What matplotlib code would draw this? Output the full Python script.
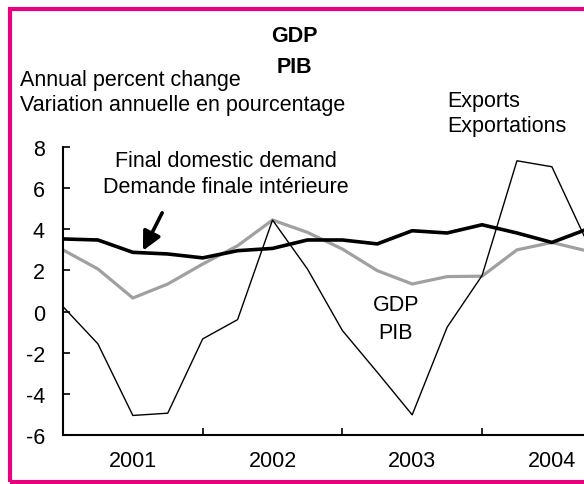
import numpy as np
import matplotlib
matplotlib.use('Agg')
import matplotlib.pyplot as plt
from matplotlib.patches import Rectangle

plt.rcParams['font.family'] = ['Liberation Sans', 'DejaVu Sans']

# quarterly data, 2001Q1 .. 2004Q4
quarters = np.arange(16)
fdd = [3.53, 3.48, 2.88, 2.80, 2.61, 2.96, 3.07, 3.48, 3.48, 3.29, 3.93, 3.82, 4.22, 3.82, 3.36, 4.0]
gdp = [3.0, 2.07, 0.66, 1.34, 2.31, 3.2, 4.45, 3.85, 3.04, 1.99, 1.34, 1.70, 1.72, 3.0, 3.36, 2.95]
exports = [0.24, -1.57, -5.05, -4.94, -1.33, -0.39, 4.45, 2.07, -0.92, -2.95, -5.02, -0.76, 1.75, 7.33, 7.04, 3.4]
years = ['2001', '2002', '2003', '2004']
yticks = [-6, -4, -2, 0, 2, 4, 6, 8]

W, H = 584, 485
fs = 15.5

def fx(x):
    return x / W

def fy(y):
    return 1 - y / H

fig = plt.figure(figsize=(W / 100, H / 100), dpi=100)
ax = fig.add_axes([fx(63), fy(436), 1 - fx(63), fy(148) - fy(436)])

ax.plot(quarters, exports, color='black', lw=1.0, zorder=3)
ax.plot(quarters, gdp, color='#a0a0a0', lw=2.3, zorder=2)
ax.plot(quarters, fdd, color='black', lw=2.6, zorder=4)

ax.set_xlim(0, (W - 63) / 34.92)
ax.set_ylim(-6, 8)
ax.set_yticks(yticks)
ax.set_yticklabels([str(v) for v in yticks])
ax.set_xticks([0, 4, 8, 12])
ax.set_xticklabels([])
ax.set_xticks([2, 6, 10, 14], minor=True)
ax.set_xticklabels(years, minor=True)
ax.tick_params(axis='x', which='major', direction='in', length=5, width=1.2)
ax.tick_params(axis='x', which='minor', length=0, pad=11, labelsize=fs)
ax.tick_params(axis='y', direction='in', length=5, width=1.2, pad=13, labelsize=fs)

for s in ['top', 'right']:
    ax.spines[s].set_visible(False)
for s in ['left', 'bottom']:
    ax.spines[s].set_linewidth(1.5)

# texts
fig.text(fx(294), fy(42), 'GDP', ha='center', va='baseline', fontsize=fs, fontweight='bold')
fig.text(fx(294), fy(73), 'PIB', ha='center', va='baseline', fontsize=fs, fontweight='bold')
fig.text(fx(20), fy(86), 'Annual percent change', ha='left', va='baseline', fontsize=fs)
fig.text(fx(20), fy(111), 'Variation annuelle en pourcentage', ha='left', va='baseline', fontsize=fs)
fig.text(fx(447), fy(107), 'Exports', ha='left', va='baseline', fontsize=fs)
fig.text(fx(447), fy(132), 'Exportations', ha='left', va='baseline', fontsize=fs)
fig.text(fx(226), fy(167), 'Final domestic demand', ha='center', va='baseline', fontsize=fs)
fig.text(fx(226), fy(193), 'Demande finale intérieure', ha='center', va='baseline', fontsize=fs)
fig.text(fx(396), fy(311), 'GDP', ha='center', va='baseline', fontsize=fs)
fig.text(fx(396), fy(339), 'PIB', ha='center', va='baseline', fontsize=fs)

ax.annotate('', xy=(2.29, 2.96), xytext=(2.84, 4.8),
            arrowprops=dict(arrowstyle='-|>,head_length=0.8,head_width=0.4',
                            lw=2.6, color='black', mutation_scale=14,
                            shrinkA=0, shrinkB=0))

# pink frame
fig.patches.append(Rectangle((fx(10), fy(483)), 1.2, fy(10) - fy(483),
                             transform=fig.transFigure, fill=False,
                             edgecolor='#e6007e', lw=3, clip_on=False))

fig.savefig('out.png', dpi=100)
